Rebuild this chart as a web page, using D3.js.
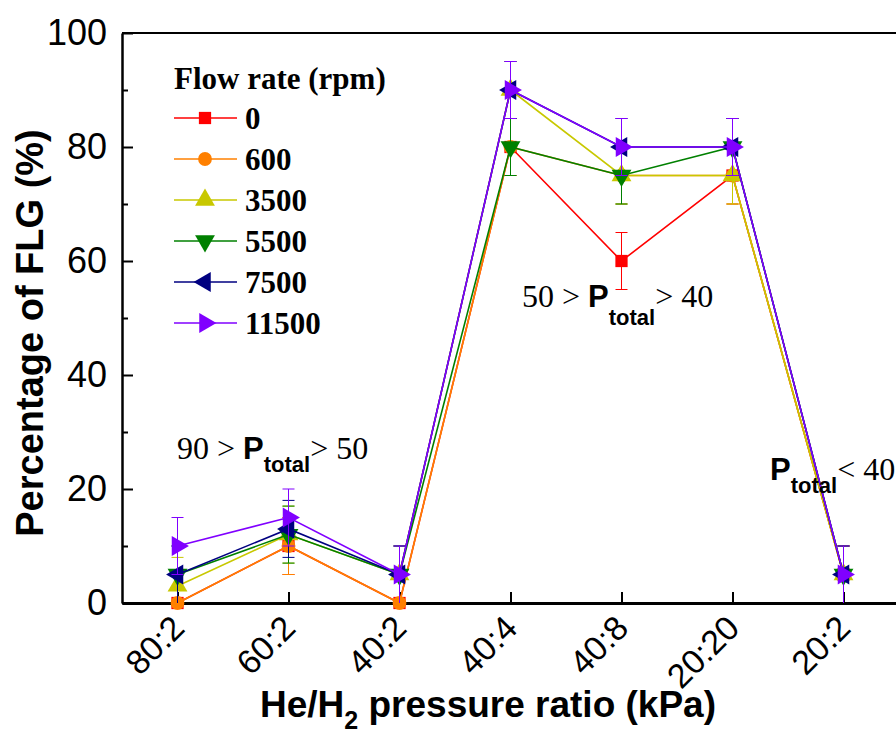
<!DOCTYPE html>
<html>
<head>
<meta charset="utf-8">
<script src="https://cdn.jsdelivr.net/npm/d3@7"></script>
<style>
 body{margin:0;background:#fff;}
 svg{display:block;}
</style>
</head>
<body>
<div id="graphe"></div>
<script>
// donnees
var ratios = ["80:2","60:2","40:2","40:4","40:8","20:20","20:2"];
var debits = ["0","600","3500","5500","7500","11500"];
var couleurs = ["#ff0000","#ff8000","#c8c800","#008000","#000080","#8000ff"];

var v0     = [0, 10, 0, 80, 60, 75, 5];
var v600   = [0, 10, 0, 80, 75, 75, 5];
var v3500  = [3, 12, 5, 90, 75, 75, 5];
var v5500  = [5, 12, 5, 80, 75, 80, 5];
var v7500  = [5, 13, 5, 90, 80, 80, 5];
var v11500 = [10, 15, 5, 90, 80, 80, 5];
var valeurs = [v0, v600, v3500, v5500, v7500, v11500];

// barres d'erreur (+/-)
var e0     = [0, 5, 0, 5, 5, 5, 5];
var e600   = [0, 5, 0, 5, 5, 5, 5];
var e3500  = [5, 5, 5, 5, 5, 5, 5];
var e5500  = [5, 5, 5, 5, 5, 5, 5];
var e7500  = [5, 5, 5, 5, 5, 5, 5];
var e11500 = [5, 5, 5, 5, 5, 5, 5];
var erreurs = [e0, e600, e3500, e5500, e7500, e11500];

var yTicks = [0, 20, 40, 60, 80, 100];
var yMinor = [10, 30, 50, 70, 90];

var annot = [
  {avant:"90 > ", sub:"total", apres:"> 50"},
  {avant:"50 > ", sub:"total", apres:"> 40"},
  {avant:"", sub:"total", apres:"< 40"}
];

var W = 896, H = 733;
var svg = d3.select("#graphe").append("svg").attr("width",W).attr("height",H);

var x = d3.scaleLinear().domain([-0.5, ratios.length - 0.5]).range([122, 899]);
var y = d3.scaleLinear().domain([0,100]).range([603,33]);

var SANS = "'Liberation Sans', Arial, sans-serif";
var SERIF = "'Liberation Serif', 'Times New Roman', serif";

// cadre haut
svg.append("line")
  .attr("x1",x(-0.5)).attr("x2",x(ratios.length-0.5))
  .attr("y1",y(100)).attr("y2",y(100))
  .attr("stroke","#000").attr("stroke-width",2);

// axe Y
var axeY = svg.append("g").attr("transform","translate("+x(-0.5)+",0)")
  .call(d3.axisLeft(y).tickValues(yTicks).tickSize(-11).tickSizeOuter(0).tickPadding(15));
axeY.select(".domain").attr("stroke-width",2.5);
axeY.selectAll(".tick line").attr("stroke-width",2);
axeY.selectAll("text").attr("font-family",SANS).attr("font-size",36).attr("fill","#000");

svg.append("g").attr("transform","translate("+x(-0.5)+",0)")
  .call(d3.axisLeft(y).tickValues(yMinor).tickSize(-6).tickFormat(""))
  .call(g => g.select(".domain").remove())
  .selectAll(".tick line").attr("stroke-width",2);

// axe X
var axeX = svg.append("g").attr("transform","translate(0,"+y(0)+")")
  .call(d3.axisBottom(x).tickValues(d3.range(ratios.length)).tickSize(-11).tickSizeOuter(0).tickFormat(""));
axeX.select(".domain").attr("stroke-width",3);
axeX.selectAll(".tick line").attr("stroke-width",2);

svg.selectAll(".labX").data(ratios).enter().append("text")
  .attr("class","labX")
  .attr("transform",(d,i)=>"translate("+(x(i)+9)+","+(y(0)+27)+") rotate(-45)")
  .attr("text-anchor","end")
  .attr("font-family",SANS).attr("font-size",34)
  .text(d=>d);

// titres des axes
var tx = svg.append("text")
  .attr("x",488).attr("y",717)
  .attr("text-anchor","middle")
  .attr("font-family",SANS).attr("font-weight","bold").attr("font-size",37);
tx.append("tspan").text("He/H");
tx.append("tspan").attr("dy",12).attr("font-size",25).text("2");
tx.append("tspan").attr("dy",-12).text(" pressure ratio (kPa)");

svg.append("text")
  .attr("transform","translate(43,333) rotate(-90)")
  .attr("text-anchor","middle")
  .attr("font-family",SANS).attr("font-weight","bold").attr("font-size",38)
  .text("Percentage of FLG (%)");

// symboles
var formes = [
  {t:d3.symbolSquare, r:0, s:150},
  {t:d3.symbolCircle, r:0, s:150},
  {t:d3.symbolTriangle, r:0, s:170},
  {t:d3.symbolTriangle, r:180, s:170},
  {t:d3.symbolTriangle, r:-90, s:170},
  {t:d3.symbolTriangle, r:90, s:170}
];

var ligne = d3.line().x((d,i)=>x(i)).y(d=>y(d));

valeurs.forEach(function(serie,k){
  var g = svg.append("g");
  var col = couleurs[k];
  // barres d'erreur
  serie.forEach(function(v,i){
    var e = erreurs[k][i];
    if(e==0) return;
    var lo = Math.max(0,v-e), hi = v+e;
    g.append("line").attr("x1",x(i)).attr("x2",x(i)).attr("y1",y(lo)).attr("y2",y(hi))
      .attr("stroke",col).attr("stroke-width",1);
    [lo,hi].forEach(function(b){
      if(b==0) return;
      g.append("line").attr("x1",x(i)-6).attr("x2",x(i)+6).attr("y1",y(b)).attr("y2",y(b))
        .attr("stroke",col).attr("stroke-width",1);
    });
  });
  g.append("path").datum(serie).attr("d",ligne)
    .attr("fill","none").attr("stroke",col).attr("stroke-width",1.6);
  g.selectAll("path.pt").data(serie).enter().append("path")
    .attr("class","pt")
    .attr("d",d3.symbol().type(formes[k].t).size(formes[k].s))
    .attr("transform",(d,i)=>"translate("+x(i)+","+y(d)+") rotate("+formes[k].r+")")
    .attr("fill",col);
});

// legende
svg.append("text").attr("x",174).attr("y",89)
  .attr("font-family",SERIF).attr("font-weight","bold").attr("font-size",31)
  .text("Flow rate (rpm)");

debits.forEach(function(d,k){
  var ly = 118 + k*41;
  svg.append("line").attr("x1",174).attr("x2",237).attr("y1",ly).attr("y2",ly)
    .attr("stroke",couleurs[k]).attr("stroke-width",1.6);
  svg.append("path")
    .attr("d",d3.symbol().type(formes[k].t).size(formes[k].s))
    .attr("transform","translate(205,"+ly+") rotate("+formes[k].r+")")
    .attr("fill",couleurs[k]);
  svg.append("text").attr("x",245).attr("y",ly+11)
    .attr("font-family",SERIF).attr("font-weight","bold").attr("font-size",31)
    .text(d);
});

// annotations de pression
var posAnnot = [[177,459,13],[522,307,18],[770,480,13]];
annot.forEach(function(a,i){
  var t = svg.append("text").attr("x",posAnnot[i][0]).attr("y",posAnnot[i][1]).attr("font-size",32);
  if(a.avant!="") t.append("tspan").attr("font-family",SERIF).text(a.avant);
  t.append("tspan").attr("font-family",SANS).attr("font-weight","bold").attr("font-size",31).text("P");
  t.append("tspan").attr("font-family",SANS).attr("font-weight","bold").attr("font-size",22)
    .attr("dy",posAnnot[i][2]).text(a.sub);
  t.append("tspan").attr("font-family",SERIF).attr("dy",-posAnnot[i][2]).text(a.apres);
});
</script>
</body>
</html>
